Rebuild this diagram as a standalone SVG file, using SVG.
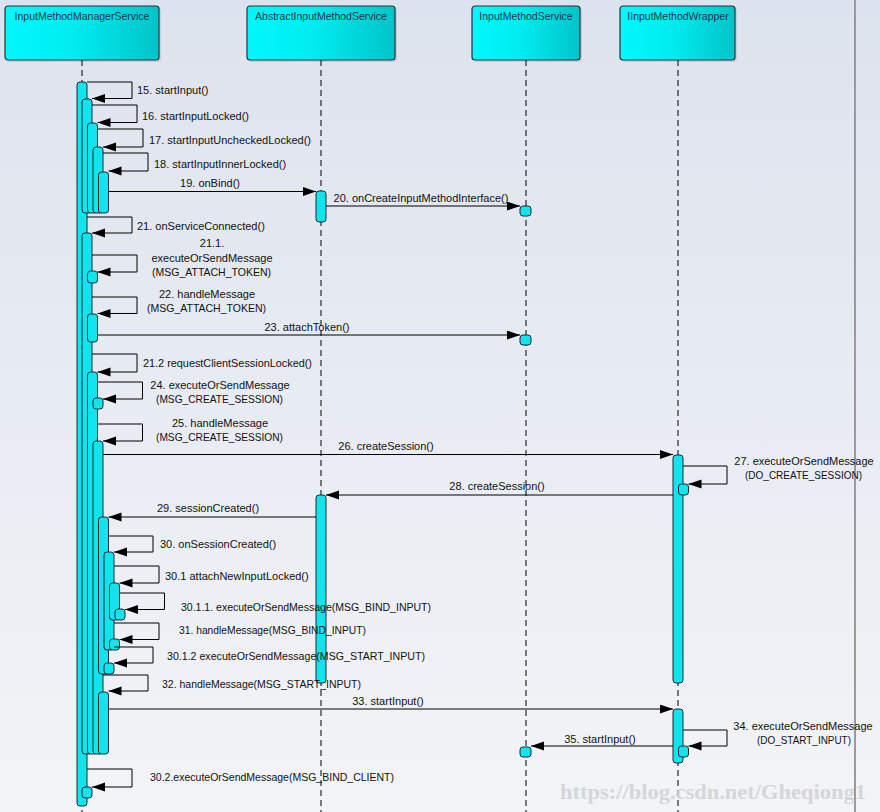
<svg xmlns="http://www.w3.org/2000/svg" width="880" height="812" viewBox="0 0 880 812">
<defs>
<linearGradient id="bg" x1="0" y1="0" x2="0" y2="1">
<stop offset="0" stop-color="#dde3ee"/>
<stop offset="1" stop-color="#f3f4f7"/>
</linearGradient>
<linearGradient id="hdr" x1="0" y1="0" x2="1" y2="0">
<stop offset="0" stop-color="#00f8fc"/>
<stop offset="0.45" stop-color="#00ecf0"/>
<stop offset="1" stop-color="#00c4c8"/>
</linearGradient>
<marker id="ah" markerUnits="userSpaceOnUse" markerWidth="14" markerHeight="10" refX="13" refY="4.5" orient="auto">
<path d="M0,0 L13,4.5 L0,9 z" fill="#000"/>
</marker>
<style>
.hb{fill:url(#hdr);stroke:#22333f;stroke-width:1.2}
.sh{fill:#b9bec8;opacity:0.6}
.ht{font-family:"Liberation Sans",Arial,sans-serif;font-size:10.5px;fill:#1d3344;text-anchor:middle}
.ll{stroke:#000;stroke-width:1;stroke-dasharray:6 4;fill:none}
.act{fill:#12e4ee;stroke:#1b2a34;stroke-width:1}
.m{stroke:#000;stroke-width:1;fill:none;marker-end:url(#ah)}
.t{font-family:"Liberation Sans",Arial,sans-serif;font-size:11px;fill:#111}
.c{text-anchor:middle}
</style>
</defs>
<rect x="0" y="0" width="880" height="812" fill="url(#bg)"/>
<line x1="855" y1="0" x2="855" y2="812" stroke="#9a9a9a" stroke-width="2"/>

<g id="lifeline-imms">
<rect class="sh" x="7" y="8" width="154" height="54" rx="3"/>
<rect class="hb" x="5" y="6" width="154" height="54" rx="3"/>
<text class="ht" x="82" y="20">InputMethodManagerService</text>
<line class="ll" x1="82" y1="60" x2="82" y2="812"/>
</g>
<g id="lifeline-aims">
<rect class="sh" x="249" y="8" width="148" height="54" rx="3"/>
<rect class="hb" x="247" y="6" width="148" height="54" rx="3"/>
<text class="ht" x="321" y="20">AbstractInputMethodService</text>
<line class="ll" x1="321" y1="60" x2="321" y2="812"/>
</g>
<g id="lifeline-ims">
<rect class="sh" x="474" y="8" width="108" height="54" rx="3"/>
<rect class="hb" x="472" y="6" width="108" height="54" rx="3"/>
<text class="ht" x="526" y="20">InputMethodService</text>
<line class="ll" x1="526" y1="60" x2="526" y2="812"/>
</g>
<g id="lifeline-iimw">
<rect class="sh" x="622" y="8" width="115" height="54" rx="3"/>
<rect class="hb" x="620" y="6" width="115" height="54" rx="3"/>
<text class="ht" x="678" y="20">IInputMethodWrapper</text>
<line class="ll" x1="678" y1="60" x2="678" y2="812"/>
</g>

<g id="activations-imms">
<rect class="act" x="77" y="82" width="10" height="724" rx="3"/>
<rect class="act" x="82" y="99" width="10" height="114" rx="3"/>
<rect class="act" x="87.5" y="123" width="10" height="90" rx="3"/>
<rect class="act" x="93" y="147" width="10" height="66" rx="3"/>
<rect class="act" x="98.5" y="172" width="10" height="41" rx="3"/>
<rect class="act" x="82" y="233" width="10" height="521" rx="3"/>
<rect class="act" x="87.5" y="271" width="10" height="12" rx="3"/>
<rect class="act" x="87.5" y="314" width="10" height="28" rx="3"/>
<rect class="act" x="87.5" y="372" width="10" height="382" rx="3"/>
<rect class="act" x="93" y="398" width="10" height="11" rx="3"/>
<rect class="act" x="93" y="441" width="10" height="313" rx="3"/>
<rect class="act" x="98.5" y="517" width="10" height="157" rx="3"/>
<rect class="act" x="104" y="552" width="10" height="98" rx="3"/>
<rect class="act" x="109.5" y="583" width="10" height="37" rx="3"/>
<rect class="act" x="115" y="609" width="10" height="11" rx="3"/>
<rect class="act" x="109.5" y="639" width="10" height="11" rx="3"/>
<rect class="act" x="104" y="663" width="10" height="11" rx="3"/>
<rect class="act" x="98.5" y="692" width="10" height="62" rx="3"/>
<rect class="act" x="82" y="787" width="10" height="11" rx="3"/>
</g>
<g id="activations-others">
<rect class="act" x="316" y="191" width="10" height="31" rx="3"/>
<rect class="act" x="316" y="495" width="10" height="188" rx="3"/>
<rect class="act" x="520" y="206" width="11" height="10" rx="3"/>
<rect class="act" x="520" y="335" width="11" height="10" rx="3"/>
<rect class="act" x="520" y="747" width="11" height="10" rx="3"/>
<rect class="act" x="673" y="455" width="10" height="228" rx="3"/>
<rect class="act" x="678.5" y="484" width="10" height="11" rx="3"/>
<rect class="act" x="673" y="709" width="10" height="54" rx="3"/>
<rect class="act" x="678.5" y="746" width="10" height="11" rx="3"/>
</g>

<g id="connectors">
<path class="m" d="M87,82 H132 V98.5 H92"/>
<path class="m" d="M92,105 H137 V122.5 H97.5"/>
<path class="m" d="M97.5,129 H143 V147 H103"/>
<path class="m" d="M103,153 H148 V171 H108.5"/>
<path class="m" d="M108.5,191.5 H316"/>
<path class="m" d="M326,206 H520"/>
<path class="m" d="M87,217 H132 V233 H92"/>
<path class="m" d="M92,255 H137 V272 H97.5"/>
<path class="m" d="M92,297 H137 V313.5 H97.5"/>
<path class="m" d="M97.5,335 H520"/>
<path class="m" d="M92,354 H137 V372 H97.5"/>
<path class="m" d="M97.5,382 H142.5 V399 H103"/>
<path class="m" d="M97.5,424 H142.5 V441 H103"/>
<path class="m" d="M103,454.5 H673"/>
<path class="m" d="M683,466 H727 V484 H688.5"/>
<path class="m" d="M673,495 H326"/>
<path class="m" d="M316,517 H108.5"/>
<path class="m" d="M108.5,536 H153 V552 H114"/>
<path class="m" d="M114,566 H159 V583 H119.5"/>
<path class="m" d="M119.5,593 H164.5 V609.5 H125"/>
<path class="m" d="M114,623 H159 V639.5 H119.5"/>
<path class="m" d="M114,647 H153 V663 H114"/>
<path class="m" d="M103,675 H148 V691 H108.5"/>
<path class="m" d="M108.5,709 H673"/>
<path class="m" d="M683,730 H727 V746 H688.5"/>
<path class="m" d="M673,746 H531"/>
<path class="m" d="M87,769 H132 V787 H92"/>
</g>

<g id="labels">
<text class="t" x="137" y="94">15. startInput()</text>
<text class="t" x="142" y="120">16. startInputLocked()</text>
<text class="t" x="149" y="144">17. startInputUncheckedLocked()</text>
<text class="t" x="154" y="168">18. startInputInnerLocked()</text>
<text class="t c" x="210" y="187">19. onBind()</text>
<text class="t c" x="421" y="202">20. onCreateInputMethodInterface()</text>
<text class="t" x="137" y="230">21. onServiceConnected()</text>
<text class="t c" x="212" y="247">21.1.</text>
<text class="t c" x="212" y="262">executeOrSendMessage</text>
<text class="t" x="152" y="276" textLength="119" lengthAdjust="spacingAndGlyphs">(MSG_ATTACH_TOKEN)</text>
<text class="t c" x="207" y="298">22. handleMessage</text>
<text class="t" x="147" y="312" textLength="119" lengthAdjust="spacingAndGlyphs">(MSG_ATTACH_TOKEN)</text>
<text class="t c" x="307" y="331">23. attachToken()</text>
<text class="t" x="143" y="367" textLength="169" lengthAdjust="spacingAndGlyphs">21.2 requestClientSessionLocked()</text>
<text class="t c" x="220" y="389">24. executeOrSendMessage</text>
<text class="t" x="156" y="403" textLength="127" lengthAdjust="spacingAndGlyphs">(MSG_CREATE_SESSION)</text>
<text class="t c" x="220" y="427">25. handleMessage</text>
<text class="t" x="156" y="441" textLength="127" lengthAdjust="spacingAndGlyphs">(MSG_CREATE_SESSION)</text>
<text class="t c" x="386" y="450">26. createSession()</text>
<text class="t c" x="804" y="465">27. executeOrSendMessage</text>
<text class="t" x="745" y="479" textLength="117" lengthAdjust="spacingAndGlyphs">(DO_CREATE_SESSION)</text>
<text class="t c" x="497" y="490">28. createSession()</text>
<text class="t c" x="208" y="512">29. sessionCreated()</text>
<text class="t" x="160" y="548">30. onSessionCreated()</text>
<text class="t" x="165" y="580">30.1 attachNewInputLocked()</text>
<text class="t" x="181" y="611" textLength="250" lengthAdjust="spacingAndGlyphs">30.1.1. executeOrSendMessage(MSG_BIND_INPUT)</text>
<text class="t" x="179" y="634" textLength="187" lengthAdjust="spacingAndGlyphs">31. handleMessage(MSG_BIND_INPUT)</text>
<text class="t" x="167" y="660" textLength="258" lengthAdjust="spacingAndGlyphs">30.1.2 executeOrSendMessage(MSG_START_INPUT)</text>
<text class="t" x="162" y="688" textLength="199" lengthAdjust="spacingAndGlyphs">32. handleMessage(MSG_START_INPUT)</text>
<text class="t c" x="388" y="705">33. startInput()</text>
<text class="t c" x="803" y="730">34. executeOrSendMessage</text>
<text class="t" x="757" y="744" textLength="94" lengthAdjust="spacingAndGlyphs">(DO_START_INPUT)</text>
<text class="t c" x="600" y="743">35. startInput()</text>
<text class="t" x="150" y="781" textLength="244" lengthAdjust="spacingAndGlyphs">30.2.executeOrSendMessage(MSG_BIND_CLIENT)</text>
</g>
<text x="560" y="799" font-family="'Liberation Serif','DejaVu Serif',serif" font-size="20" font-weight="bold" fill="#cfd1d6" opacity="0.85" textLength="306" lengthAdjust="spacingAndGlyphs">https://blog.csdn.net/Gheqiong1</text>
</svg>
